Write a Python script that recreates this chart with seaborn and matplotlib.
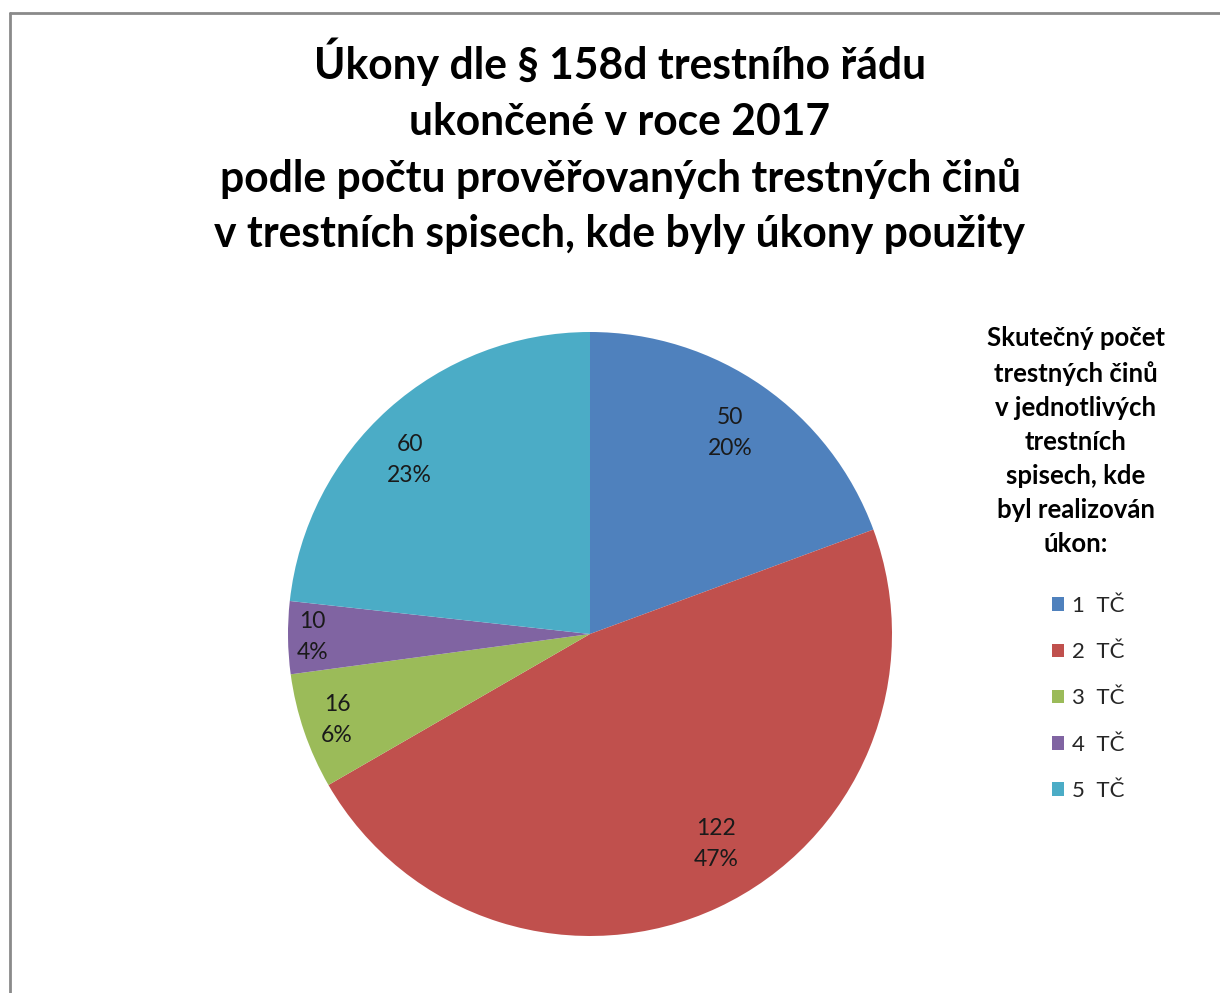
import numpy as np
import matplotlib
matplotlib.use("Agg")
import matplotlib.pyplot as plt
from matplotlib.lines import Line2D
import seaborn as sns

# data
categories = ["1  TČ", "2  TČ", "3  TČ", "4  TČ", "5  TČ"]
counts = [50, 122, 16, 10, 60]
percents = ["20%", "47%", "6%", "4%", "23%"]

title = ("Úkony dle § 158d trestního řádu\n"
         "ukončené v roce 2017\n"
         "podle počtu prověřovaných trestných činů\n"
         "v trestních spisech, kde byly úkony použity")
legend_title = ("Skutečný počet\ntrestných činů\nv jednotlivých\ntrestních\n"
                "spisech, kde\nbyl realizován\núkon:")

sns.set_theme(style="white")
plt.rcParams["font.family"] = ["Lato", "DejaVu Sans"]

colors = ["#4F81BD", "#C0504D", "#9BBB59", "#8064A2", "#4BACC6"]
# label placement: radial distance and angular nudge (deg, ccw)
label_dist = [0.81, 0.81, 0.885, 0.92, 0.83]
label_nudge = [0, 5.9, 0, 0, 4.2]

W, H = 1220, 993
fig = plt.figure(figsize=(W / 100, H / 100), dpi=100)

# pie centred at (590, 634) px, radius 302 px
cx, cy, r = 590, 634, 302
ax = fig.add_axes([(cx - r) / W, (H - cy - r) / H, 2 * r / W, 2 * r / H])
wedges, _ = ax.pie(counts, colors=colors, startangle=90, counterclock=False,
                   wedgeprops=dict(linewidth=0))
ax.set_xlim(-1, 1)
ax.set_ylim(-1, 1)
ax.set_aspect("equal")
ax.axis("off")

for w, n, p, d, nu in zip(wedges, counts, percents, label_dist, label_nudge):
    ang = np.deg2rad((w.theta1 + w.theta2) / 2 + nu)
    ax.text(d * np.cos(ang), d * np.sin(ang), f"{n}\n{p}", ha="center",
            va="center", fontsize=16.5, color="#1a1a1a", linespacing=1.6)

# chart frame (left and top edges visible)
fig.add_artist(Line2D([9.5 / W, 9.5 / W], [0, 1 - 12.5 / H], color="#8a8a8a",
                      lw=2, transform=fig.transFigure))
fig.add_artist(Line2D([9.5 / W, 1], [1 - 12.5 / H, 1 - 12.5 / H], color="#8a8a8a",
                      lw=2, transform=fig.transFigure))

fig.text(620 / W, 1 - 146 / H, title, ha="center", va="center", fontsize=30.7,
         fontweight="bold", color="black", linespacing=1.47)

fig.text(1076 / W, 1 - 441 / H, legend_title, ha="center", va="center",
         fontsize=18.5, fontweight="bold", color="black", linespacing=1.5)

leg = fig.legend(wedges, categories, loc="upper left",
                 bbox_to_anchor=(1032 / W, 1 - 576 / H), frameon=False,
                 fontsize=16, handlelength=0.55, handleheight=0.55,
                 handletextpad=0.35, labelspacing=1.18)

fig.savefig("out.png", dpi=100)
